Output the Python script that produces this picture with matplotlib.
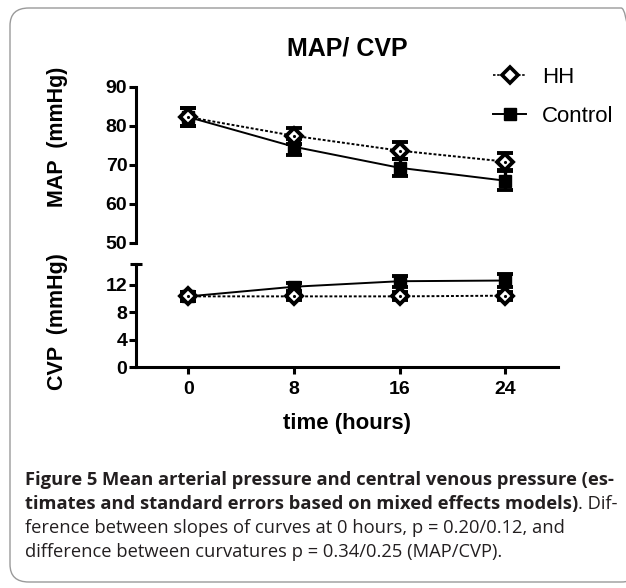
import numpy as np
import matplotlib.pyplot as plt
from matplotlib.patches import FancyBboxPatch
from matplotlib.lines import Line2D

# values
hours = [0, 8, 16, 24]
map_hh = [82.2, 77.4, 73.6, 70.8]
map_hh_se = [2.3, 2.0, 2.1, 2.2]
map_ctrl = [82.2, 74.6, 69.2, 65.9]
map_ctrl_se = [2.3, 2.1, 2.2, 2.4]
cvp_hh = [10.3, 10.3, 10.3, 10.4]
cvp_hh_se = [0.7, 0.6, 0.6, 0.6]
cvp_ctrl = [10.3, 11.7, 12.5, 12.6]
cvp_ctrl_se = [0.7, 0.6, 0.8, 0.9]
map_ticks = [50, 60, 70, 80, 90]
cvp_ticks = [0, 4, 8, 12]

W, H = 626, 588
fig = plt.figure(figsize=(W / 100, H / 100), dpi=100)
plt.rcParams['font.family'] = ['Liberation Sans', 'DejaVu Sans']

def fx(px):
    return px / W

def fy(py):
    return 1 - py / H

# rounded frame around figure + caption
frame = FancyBboxPatch((fx(10), fy(582)), fx(640) - fx(10), fy(8) - fy(582),
                       boxstyle="round,pad=0,rounding_size=0.03",
                       transform=fig.transFigure, fc='none', ec='#9a9a9a', lw=1.0,
                       zorder=-5)
fig.patches.append(frame)

left, right = fx(135.7), fx(558)
ax1 = fig.add_axes([left, fy(242.7), right - left, fy(86.7) - fy(242.7)])
ax2 = fig.add_axes([left, fy(367.3), right - left, fy(264) - fy(367.3)])

spine_w = 2.2
for ax in (ax1, ax2):
    ax.set_facecolor('none')
    ax.set_xlim(-4, 28)
    for s in ('top', 'right'):
        ax.spines[s].set_visible(False)
    ax.spines['left'].set_linewidth(spine_w)
    ax.spines['bottom'].set_linewidth(spine_w)
    ax.tick_params(width=spine_w, length=5, pad=1)

ax1.spines['bottom'].set_visible(False)
ax1.set_xticks([])
ax1.set_ylim(50, 90)
ax1.set_yticks(map_ticks)
ax1.set_yticklabels([str(t) for t in map_ticks], fontweight='bold', fontsize=14)

ax2.set_ylim(0, 15)
ax2.set_yticks(cvp_ticks)
ax2.set_yticklabels([str(t) for t in cvp_ticks], fontweight='bold', fontsize=14)
ax2.set_xticks(hours)
ax2.set_xticklabels([str(h) for h in hours], fontweight='bold', fontsize=14)
ax2.tick_params(axis='x', pad=5)
# cap on top of CVP axis
ax2.plot([0], [15], marker='_', ms=9, mew=spine_w, color='black',
         transform=ax2.get_yaxis_transform(), clip_on=False)

err_kw = dict(ecolor='black', elinewidth=2.4, capsize=5.5, capthick=2.8)

def draw(ax, y_hh, se_hh, y_ctrl, se_ctrl):
    ax.errorbar(hours, y_ctrl, yerr=se_ctrl, color='black', lw=1.4, ls='-',
                marker='s', ms=8, mfc='black', mec='black', clip_on=False,
                zorder=3, **err_kw)
    ax.errorbar(hours, y_hh, yerr=se_hh, color='black', lw=1.4, ls=(0, (1.5, 1)),
                marker='D', ms=8.5, mfc='white', mec='black', mew=2.8,
                clip_on=False, zorder=4, **err_kw)
    ax.plot(hours, y_hh, ls='none', marker='.', ms=2.5, color='black', zorder=5)

draw(ax1, map_hh, map_hh_se, map_ctrl, map_ctrl_se)
draw(ax2, cvp_hh, cvp_hh_se, cvp_ctrl, cvp_ctrl_se)

fig.text(fx(347), fy(48), 'MAP/ CVP', ha='center', va='center',
         fontsize=18, fontweight='bold')
fig.text(fx(58), fy(137), 'MAP  (mmHg)', rotation=90, ha='center', va='center',
         fontsize=15.5, fontweight='bold')
fig.text(fx(58), fy(322), 'CVP  (mmHg)', rotation=90, ha='center', va='center',
         fontsize=15.5, fontweight='bold')
fig.text(fx(347), fy(423), 'time (hours)', ha='center', va='center',
         fontsize=16, fontweight='bold')

handles = [Line2D([], [], color='black', lw=1.2, ls=(0, (1.5, 1)), marker='D',
                  ms=8, mfc='white', mec='black', mew=2.6),
           Line2D([], [], color='black', lw=1.4, marker='s', ms=8, mfc='black')]
fig.legend(handles, ['HH', 'Control'], loc='center left',
           bbox_to_anchor=(fx(482), fy(97)), frameon=False, fontsize=16,
           handlelength=1.5, handletextpad=0.7, labelspacing=0.8, borderpad=0)

cap_lines = [
    [("Figure 5 ", 'bold'), ("Mean arterial pressure and central venous pressure (es-", 'bold')],
    [("timates and standard errors based on mixed effects models)", 'bold'), (". Dif-", 'normal')],
    [("ference between slopes of curves at 0 hours, p = 0.20/0.12, and", 'normal')],
    [("difference between curvatures p = 0.34/0.25 (MAP/CVP).", 'normal')],
]
fig.canvas.draw()
renderer = fig.canvas.get_renderer()
y0 = 480
for i, parts in enumerate(cap_lines):
    x = fx(25)
    for txt, wt in parts:
        t = fig.text(x, fy(y0 + 24 * i), txt, ha='left', va='center',
                     fontsize=13.2, fontweight=wt, color='#231f20',
                     family=['Open Sans', 'DejaVu Sans'])
        bb = t.get_window_extent(renderer)
        x += bb.width / W

fig.savefig('out.png', dpi=100)
